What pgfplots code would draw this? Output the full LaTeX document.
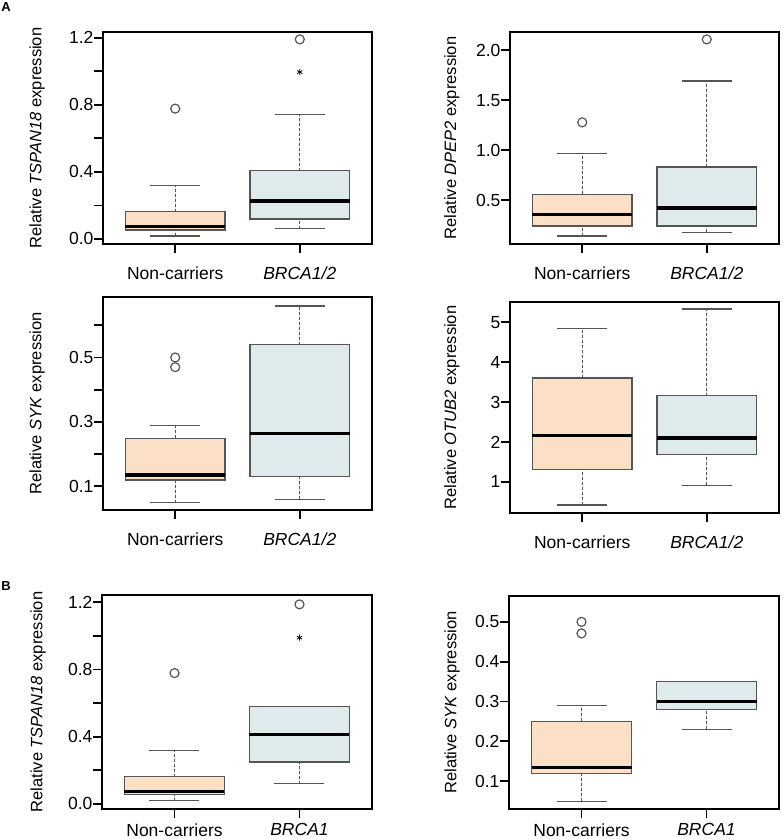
\documentclass[border=0pt]{standalone}
\usepackage{fontspec}
\setmainfont{Liberation Sans}
\usepackage{pgfplots}
\pgfplotsset{compat=1.18}
\usepgfplotslibrary{statistics}

\definecolor{peach}{HTML}{FCE0C6}
\definecolor{pale}{HTML}{DEEAEB}
\definecolor{edge}{HTML}{555555}

\pgfplotsset{
  panel/.style={
    scale only axis,
    width=269pt, height=212pt,
    xmin=0.42, xmax=2.58,
    xtick={1,2},
    tick align=outside,
    tick pos=left,
    major tick length=9pt,
    axis line style={line width=1.8pt},
    every tick/.style={line width=1.8pt, black},
    tick label style={font=\fontsize{17.5}{20}\selectfont},
    yticklabel style={xshift=3pt},
    label style={font=\fontsize{16.5}{20}\selectfont},
    boxplot/draw direction=y,
    boxplot/box extend=0.8,
    boxplot/whisker extend=0.4,
    boxplot/draw/lower whisker/.code={
      \draw[densely dashed, line width=0.9pt, edge]
        (boxplot box cs:\pgfplotsboxplotvalue{lower whisker},0.5) --
        (boxplot box cs:\pgfplotsboxplotvalue{lower quartile},0.5);
      \draw[line width=1.2pt, edge]
        (boxplot whisker cs:\pgfplotsboxplotvalue{lower whisker},0) --
        (boxplot whisker cs:\pgfplotsboxplotvalue{lower whisker},1);
    },
    boxplot/draw/upper whisker/.code={
      \draw[densely dashed, line width=0.9pt, edge]
        (boxplot box cs:\pgfplotsboxplotvalue{upper quartile},0.5) --
        (boxplot box cs:\pgfplotsboxplotvalue{upper whisker},0.5);
      \draw[line width=1.2pt, edge]
        (boxplot whisker cs:\pgfplotsboxplotvalue{upper whisker},0) --
        (boxplot whisker cs:\pgfplotsboxplotvalue{upper whisker},1);
    },
    boxplot/draw/median/.code={
      \draw[line width=3.5pt, black]
        (boxplot box cs:\pgfplotsboxplotvalue{median},0) --
        (boxplot box cs:\pgfplotsboxplotvalue{median},1);
    },
  },
  nc/.style={fill=peach, draw=edge, line width=1.2pt,
    mark=o, mark size=4.5pt, mark options={draw=edge, fill=none, line width=1.2pt}},
  br/.style={fill=pale, draw=edge, line width=1.2pt,
    mark=o, mark size=4.5pt, mark options={draw=edge, fill=none, line width=1.2pt}},
  star/.style={only marks, mark=asterisk, mark size=3pt, black, line width=0.8pt},
}

\begin{document}
\begin{tikzpicture}
\useasboundingbox (0,0) rectangle (784pt,839pt);

\node[font=\fontsize{13}{15}\selectfont\bfseries] at (6pt,832pt) {A};
\node[font=\fontsize{13}{15}\selectfont\bfseries] at (6pt,252.5pt) {B};

% A, top left: TSPAN18
\begin{axis}[panel, at={(103pt,595pt)}, anchor=south west,
  ymin=-0.030, ymax=1.234,
  ytick={0,0.2,0.4,0.6,0.8,1.0,1.2},
  yticklabels={0.0,,0.4,,0.8,,1.2},
  xticklabels={Non-carriers,\textit{BRCA1/2}},
  xticklabel style={yshift=-10pt},
  ylabel={Relative \textit{TSPAN18} expression},
  ylabel style={at={(axis description cs:-0.245,0.5)}, anchor=center}]
\addplot[nc, boxplot prepared={draw position=1, lower whisker=0.018,
  lower quartile=0.054, median=0.074, upper quartile=0.163, upper whisker=0.32}]
  table[row sep=\\, y index=0] {v\\ 0.777\\};
\addplot[br, boxplot prepared={draw position=2, lower whisker=0.062,
  lower quartile=0.119, median=0.225, upper quartile=0.407, upper whisker=0.741}]
  table[row sep=\\, y index=0] {v\\ 1.19\\};
\addplot[star] coordinates {(2,0.995)};
\end{axis}

% A, top right: DPEP2
\begin{axis}[panel, at={(510pt,595pt)}, anchor=south west,
  ymin=0.059, ymax=2.184,
  ytick={0.5,1.0,1.5,2.0},
  yticklabels={0.5,1.0,1.5,2.0},
  xticklabels={Non-carriers,\textit{BRCA1/2}},
  xticklabel style={yshift=-10pt},
  ylabel={Relative \textit{DPEP2} expression},
  ylabel style={at={(axis description cs:-0.216,0.5)}, anchor=center}]
\addplot[nc, boxplot prepared={draw position=1, lower whisker=0.139,
  lower quartile=0.24, median=0.353, upper quartile=0.557, upper whisker=0.968}]
  table[row sep=\\, y index=0] {v\\ 1.278\\};
\addplot[br, boxplot prepared={draw position=2, lower whisker=0.176,
  lower quartile=0.24, median=0.42, upper quartile=0.831, upper whisker=1.693}]
  table[row sep=\\, y index=0] {v\\ 2.11\\};
\end{axis}

% A, middle left: SYK
\begin{axis}[panel, at={(103pt,329pt)}, anchor=south west, height=213pt,
  ymin=0.026, ymax=0.688,
  ytick={0.1,0.2,0.3,0.4,0.5,0.6},
  yticklabels={0.1,,0.3,,0.5,},
  xticklabels={Non-carriers,\textit{BRCA1/2}},
  xticklabel style={yshift=-10pt},
  ylabel={Relative \textit{SYK} expression},
  ylabel style={at={(axis description cs:-0.245,0.5)}, anchor=center}]
\addplot[nc, boxplot prepared={draw position=1, lower whisker=0.049,
  lower quartile=0.119, median=0.135, upper quartile=0.249, upper whisker=0.288}]
  table[row sep=\\, y index=0] {v\\ 0.50\\ 0.47\\};
\addplot[br, boxplot prepared={draw position=2, lower whisker=0.059,
  lower quartile=0.130, median=0.264, upper quartile=0.540, upper whisker=0.660}]
  coordinates {};
\end{axis}

% A, middle right: OTUB2
\begin{axis}[panel, at={(510pt,326pt)}, anchor=south west, height=211pt,
  ymin=0.217, ymax=5.508,
  ytick={1,2,3,4,5},
  yticklabels={1,2,3,4,5},
  xticklabels={Non-carriers,\textit{BRCA1/2}},
  xticklabel style={yshift=-10pt},
  ylabel={Relative \textit{OTUB2} expression},
  ylabel style={at={(axis description cs:-0.216,0.5)}, anchor=center}]
\addplot[nc, boxplot prepared={draw position=1, lower whisker=0.417,
  lower quartile=1.317, median=2.158, upper quartile=3.60, upper whisker=4.85}]
  coordinates {};
\addplot[br, boxplot prepared={draw position=2, lower whisker=0.908,
  lower quartile=1.692, median=2.10, upper quartile=3.158, upper whisker=5.333}]
  coordinates {};
\end{axis}

% B, bottom left: TSPAN18, BRCA1
\begin{axis}[panel, at={(102pt,30pt)}, anchor=south west, width=270pt, height=214pt,
  ymin=-0.030, ymax=1.244,
  ytick={0,0.2,0.4,0.6,0.8,1.0,1.2},
  yticklabels={0.0,,0.4,,0.8,,1.2},
  xticklabels={Non-carriers,\textit{BRCA1}},
  xticklabel style={yshift=-2pt},
  ylabel={Relative \textit{TSPAN18} expression},
  ylabel style={at={(axis description cs:-0.237,0.5)}, anchor=center}]
\addplot[nc, boxplot prepared={draw position=1, lower whisker=0.02,
  lower quartile=0.054, median=0.075, upper quartile=0.163, upper whisker=0.317}]
  table[row sep=\\, y index=0] {v\\ 0.779\\};
\addplot[br, boxplot prepared={draw position=2, lower whisker=0.121,
  lower quartile=0.25, median=0.413, upper quartile=0.579, upper whisker=0.579}]
  table[row sep=\\, y index=0] {v\\ 1.188\\};
\addplot[star] coordinates {(2,0.99)};
\end{axis}

% B, bottom right: SYK, BRCA1
\begin{axis}[panel, at={(509pt,30pt)}, anchor=south west, width=270pt, height=213pt,
  ymin=0.03, ymax=0.565,
  ytick={0.1,0.2,0.3,0.4,0.5},
  yticklabels={0.1,0.2,0.3,0.4,0.5},
  xticklabels={Non-carriers,\textit{BRCA1}},
  xticklabel style={yshift=-2pt},
  ylabel={Relative \textit{SYK} expression},
  ylabel style={at={(axis description cs:-0.211,0.5)}, anchor=center}]
\addplot[nc, boxplot prepared={draw position=1, lower whisker=0.049,
  lower quartile=0.12, median=0.134, upper quartile=0.25, upper whisker=0.29}]
  table[row sep=\\, y index=0] {v\\ 0.50\\ 0.471\\};
\addplot[br, boxplot prepared={draw position=2, lower whisker=0.23,
  lower quartile=0.28, median=0.30, upper quartile=0.35, upper whisker=0.35}]
  coordinates {};
\end{axis}
\end{tikzpicture}
\end{document}
